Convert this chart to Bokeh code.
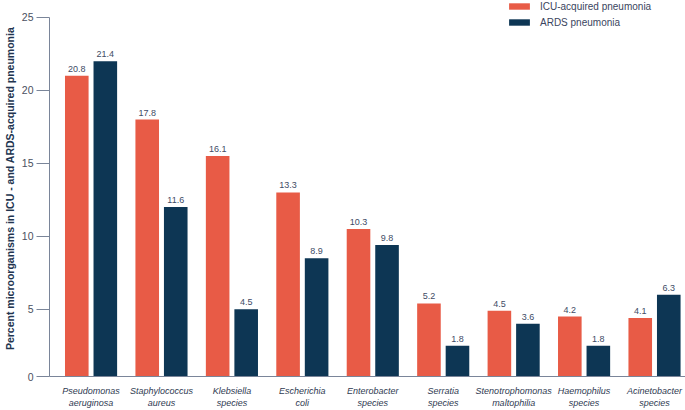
from bokeh.plotting import figure
from bokeh.models import ColumnDataSource, Range1d, FixedTicker, Legend, LegendItem
from bokeh.embed import file_html
from bokeh.resources import INLINE
from bokeh.core.properties import value

organisms = ["Pseudomonas\naeruginosa", "Staphylococcus\naureus", "Klebsiella\nspecies",
             "Escherichia\ncoli", "Enterobacter\nspecies", "Serratia\nspecies",
             "Stenotrophomonas\nmaltophilia", "Haemophilus\nspecies", "Acinetobacter\nspecies"]
icu_labels = ["20.8", "17.8", "16.1", "13.3", "10.3", "5.2", "4.5", "4.2", "4.1"]
ards_labels = ["21.4", "11.6", "4.5", "8.9", "9.8", "1.8", "3.6", "1.8", "6.3"]
# bar heights as drawn in the picture
icu_bars = [21.0, 18.0, 15.5, 13.0, 10.5, 5.4, 4.9, 4.5, 4.4]
ards_bars = [22.0, 12.0, 5.0, 8.5, 9.4, 2.5, 4.0, 2.5, 6.0]
y_ticks = [0.39, 5, 10, 15, 20, 25]
y_tick_labels = ["0", "5", "10", "15", "20", "25"]

ORANGE = "#E85B46"
NAVY = "#0D3654"
FONT = "Liberation Sans"

n = len(organisms)
xs = list(range(n))
icu_src = ColumnDataSource(dict(x=[i - 0.2025 for i in xs], top=icu_bars, lab=icu_labels))
ards_src = ColumnDataSource(dict(x=[i + 0.2025 for i in xs], top=ards_bars, lab=ards_labels))

p = figure(width=685, height=410, output_backend="svg", toolbar_location=None,
           x_range=Range1d(-0.59, 8.44), y_range=Range1d(0.39, 26.156),
           min_border_left=49, min_border_right=0, min_border_top=0, min_border_bottom=31,
           margin=(0, 0, 0, 0))
p.outline_line_color = None
p.xgrid.visible = False
p.ygrid.visible = False
p.background_fill_color = "white"
p.border_fill_color = "white"

r1 = p.vbar(x="x", top="top", bottom=0, width=0.335, source=icu_src,
            fill_color=ORANGE, line_color=None)
r2 = p.vbar(x="x", top="top", bottom=0, width=0.335, source=ards_src,
            fill_color=NAVY, line_color=None)

for src in (icu_src, ards_src):
    p.text(x="x", y="top", text="lab", source=src, text_align="center",
           text_baseline="middle", y_offset=-7, text_font=value(FONT),
           text_font_size="9px", text_color="#3e4b66")

AXIS_COLOR = "#7a8599"
yax = p.yaxis[0]
yax.ticker = FixedTicker(ticks=y_ticks)
yax.bounds = (0.39, 25)
yax.major_label_overrides = {t: l for t, l in zip(y_ticks, y_tick_labels)}
yax.minor_tick_line_color = None
yax.major_tick_in = 0
yax.major_tick_out = 13
yax.major_tick_line_color = AXIS_COLOR
yax.axis_line_color = AXIS_COLOR
yax.major_label_standoff = 3
yax.major_label_text_font = FONT
yax.major_label_text_font_size = "10.5px"
yax.major_label_text_color = "#4a5060"
yax.axis_label = "Percent microorganisms in ICU - and ARDS-acquired pneumonia"
yax.axis_label_text_font = FONT
yax.axis_label_text_font_style = "bold"
yax.axis_label_text_font_size = "10.5px"
yax.axis_label_text_color = "#22344f"
yax.axis_label_standoff = 3

xax = p.xaxis[0]
xax.ticker = FixedTicker(ticks=xs)
xax.major_label_overrides = {i: organisms[i] for i in xs}
xax.minor_tick_line_color = None
xax.major_tick_line_color = None
xax.major_tick_in = 0
xax.major_tick_out = 0
xax.axis_line_color = AXIS_COLOR
xax.major_label_standoff = 9
xax.major_label_text_font = FONT
xax.major_label_text_font_style = "italic"
xax.major_label_text_font_size = "9px"
xax.major_label_text_color = "#2f3a52"

legend = Legend(items=[LegendItem(label="ICU-acquired pneumonia", renderers=[r1]),
                       LegendItem(label="ARDS pneumonia", renderers=[r2])],
                location=(457, 348), glyph_width=26, glyph_height=8, label_standoff=8,
                label_height=12, spacing=4, padding=0, margin=0,
                border_line_color=None, background_fill_alpha=0,
                label_text_font=FONT, label_text_font_size="10px",
                label_text_color="#3a4560")
p.add_layout(legend)

open("out.html", "w").write(file_html(p, INLINE))
